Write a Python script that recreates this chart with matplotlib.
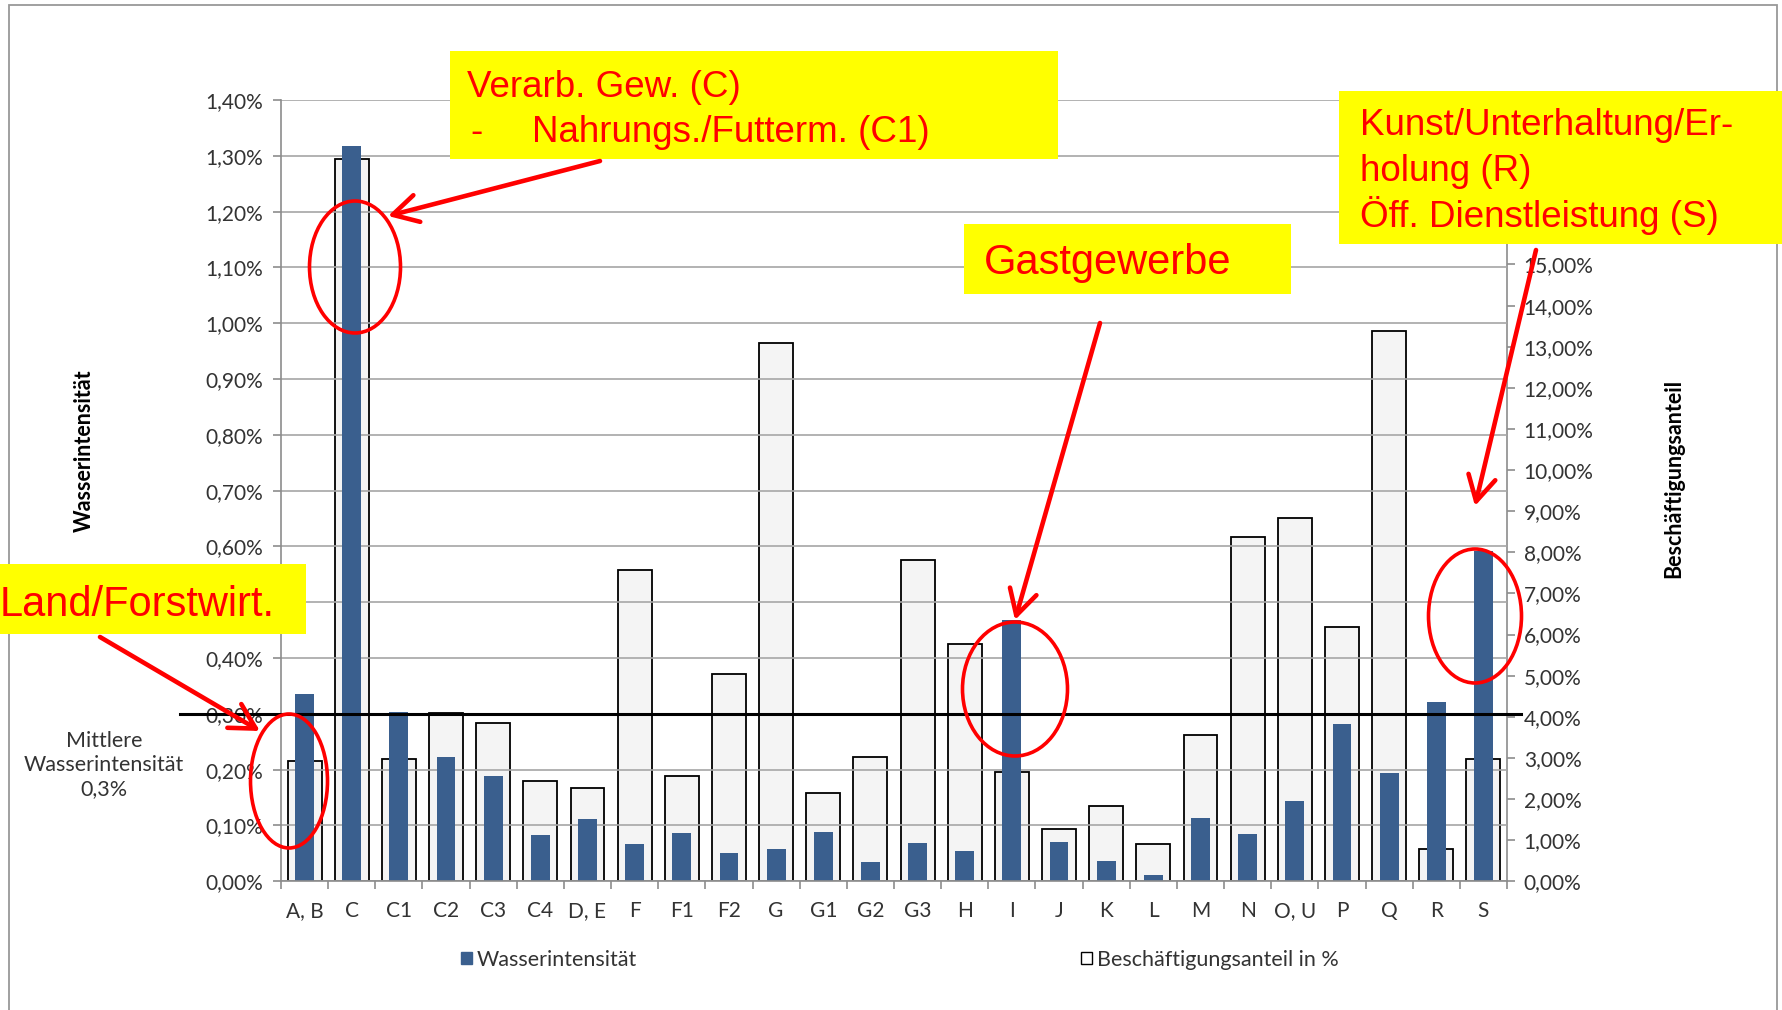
import numpy as np
import matplotlib
matplotlib.use('Agg')
import matplotlib.pyplot as plt
from matplotlib.patches import Rectangle, Ellipse, FancyArrowPatch, Patch
from matplotlib.ticker import FuncFormatter

# Branchen (x-Achse)
categories = ['A, B', 'C', 'C1', 'C2', 'C3', 'C4', 'D, E', 'F', 'F1', 'F2', 'G', 'G1', 'G2',
              'G3', 'H', 'I', 'J', 'K', 'L', 'M', 'N', 'O, U', 'P', 'Q', 'R', 'S']
# Wasserintensitaet in % (linke Achse)
wasser = [0.335, 1.318, 0.303, 0.222, 0.189, 0.083, 0.112, 0.066, 0.086, 0.050, 0.057, 0.088, 0.035,
          0.069, 0.054, 0.469, 0.071, 0.037, 0.011, 0.114, 0.085, 0.143, 0.282, 0.194, 0.321, 0.592]
# Beschaeftigungsanteil in % (rechte Achse)
besch = [2.93, 17.56, 2.97, 4.10, 3.85, 2.45, 2.26, 7.56, 2.55, 5.05, 13.09, 2.15, 3.03,
         7.82, 5.76, 2.67, 1.28, 1.84, 0.91, 3.56, 8.38, 8.83, 6.18, 13.39, 0.78, 2.98]
mittel = 0.3

W, H = 1783, 1010
BLUE = '#3A5F8E'
RED = '#FF0000'
YELLOW = '#FFFF00'
GRAY = '#8C8C8C'
TXT = '#333333'

plt.rcParams['font.family'] = ['Lato', 'DejaVu Sans']


def fx(x):
    return x / W


def fy(y):
    return 1 - y / H


def pct(v, _):
    return f'{v:.2f}%'.replace('.', ',')


fig = plt.figure(figsize=(W / 100, H / 100), dpi=100)
ax = fig.add_axes([fx(281), fy(881.3), (1507 - 281) / W, (881.3 - 100) / H])
ax2 = ax.twinx()
ax.set_zorder(2)
ax.patch.set_visible(False)

x = np.arange(len(categories))
ax2.bar(x, besch, width=0.72, color='#F4F4F4', edgecolor='black', linewidth=1.3)
ax.bar(x, wasser, width=0.40, color=BLUE, linewidth=0)

ax.set_xlim(-0.5, len(categories) - 0.5)
ax.set_ylim(0, 1.4)
ax2.set_ylim(0, 19)
ax.set_yticks(np.arange(0, 1.41, 0.1))
ax2.set_yticks(np.arange(0, 20, 1))
ax.yaxis.set_major_formatter(FuncFormatter(pct))
ax2.yaxis.set_major_formatter(FuncFormatter(pct))

ax.set_axisbelow(True)
ax.yaxis.grid(True, color='#A6A6A6', linewidth=1.2)

for s in ['top', 'right']:
    ax.spines[s].set_visible(False)
for s in ['top', 'left', 'bottom']:
    ax2.spines[s].set_visible(False)
for s in [ax.spines['left'], ax.spines['bottom'], ax2.spines['right']]:
    s.set_color(GRAY)
    s.set_linewidth(1.2)

ax.set_xticks(x, categories)
ax.set_xticks(np.arange(-0.5, len(categories), 1), minor=True)
ax.tick_params(axis='x', which='major', length=0, pad=14, labelsize=15, labelcolor=TXT)
ax.tick_params(axis='x', which='minor', length=6, color=GRAY, width=1.2)
ax.tick_params(axis='y', length=6, color=GRAY, width=1.2, pad=7, labelsize=15, labelcolor=TXT)
ax2.tick_params(axis='y', length=6, color=GRAY, width=1.2, pad=6, labelsize=15, labelcolor=TXT)

# mittlere Wasserintensitaet
ax.plot([-0.0824, 1.0114], [mittel, mittel], transform=ax.get_yaxis_transform(),
        color='black', linewidth=2.2, clip_on=False, zorder=3)
fig.text(fx(104), fy(765), 'Mittlere\nWasserintensität\n0,3%', ha='center', va='center',
         fontsize=15.5, color=TXT, linespacing=1.25)

fig.text(fx(84), fy(451), 'Wasserintensität', rotation=90, ha='center', va='center',
         fontsize=15.5, fontweight='bold', color='black')
fig.text(fx(1674), fy(478), 'Beschäftigungsanteil', rotation=90, ha='center', va='center',
         fontsize=15.5, fontweight='bold', color='black')

# Legende
fig.legend(handles=[Patch(facecolor=BLUE, edgecolor=BLUE)], labels=['Wasserintensität'],
           loc='center left', bbox_to_anchor=(fx(461), fy(960)), frameon=False,
           handlelength=0.5, handleheight=0.5, handletextpad=0.25, borderpad=0,
           borderaxespad=0, fontsize=15.5, labelcolor=TXT)
fig.legend(handles=[Patch(facecolor='white', edgecolor='black', linewidth=1)],
           labels=['Beschäftigungsanteil in %'],
           loc='center left', bbox_to_anchor=(fx(1081), fy(960)), frameon=False,
           handlelength=0.5, handleheight=0.5, handletextpad=0.25, borderpad=0,
           borderaxespad=0, fontsize=15.5, labelcolor=TXT)

# Rahmen
fig.add_artist(Rectangle((fx(9), -0.05), (1776.7 - 9) / W, 1.05 - 5.3 / H, transform=fig.transFigure,
                         fill=False, edgecolor='#999999', linewidth=1.3, zorder=1))

# gelbe Kaesten mit Text
boxes = [(450, 51, 1058, 159), (1339, 91, 1790, 244), (964, 224, 1291, 294), (-5, 564, 306, 634)]
for x0, y0, x1, y1 in boxes:
    fig.add_artist(Rectangle((fx(x0), fy(y1)), (x1 - x0) / W, (y1 - y0) / H,
                             transform=fig.transFigure, facecolor=YELLOW, edgecolor='none', zorder=5))

red_font = dict(color=RED, family='Liberation Sans', ha='left', va='baseline', zorder=6)
fig.text(fx(467), fy(97), 'Verarb. Gew. (C)', fontsize=26.5, **red_font)
fig.text(fx(470), fy(142), '-', fontsize=26.5, **red_font)
fig.text(fx(532), fy(142), 'Nahrungs./Futterm. (C1)', fontsize=26.5, **red_font)
fig.text(fx(1360), fy(135), 'Kunst/Unterhaltung/Er-', fontsize=26.5, **red_font)
fig.text(fx(1360), fy(181), 'holung (R)', fontsize=26.5, **red_font)
fig.text(fx(1360), fy(227), 'Öff. Dienstleistung (S)', fontsize=26.5, **red_font)
fig.text(fx(984), fy(274), 'Gastgewerbe', fontsize=30, **red_font)
fig.text(fx(0), fy(616), 'Land/Forstwirt.', fontsize=30, **red_font)

# Ellipsen
for cx, cy, w, h in [(355, 267, 91, 132), (289, 781, 77, 134), (1015, 689, 105, 134), (1475, 616, 93, 134)]:
    fig.add_artist(Ellipse((fx(cx), fy(cy)), w / W, h / H, transform=fig.transFigure,
                           fill=False, edgecolor=RED, linewidth=2.6, zorder=6))

# Pfeile
for (x0, y0), (x1, y1) in [((600, 161), (388, 216)), ((1100, 323), (1015, 620)),
                           ((1536, 250), (1475, 506)), ((100, 637), (260, 731))]:
    fig.add_artist(FancyArrowPatch((fx(x0), fy(y0)), (fx(x1), fy(y1)), transform=fig.transFigure,
                                   arrowstyle='->,head_length=0.6,head_width=0.33', mutation_scale=30,
                                   color=RED, linewidth=3.3, shrinkA=0, shrinkB=0, zorder=7))

fig.savefig('out.png', dpi=100)
